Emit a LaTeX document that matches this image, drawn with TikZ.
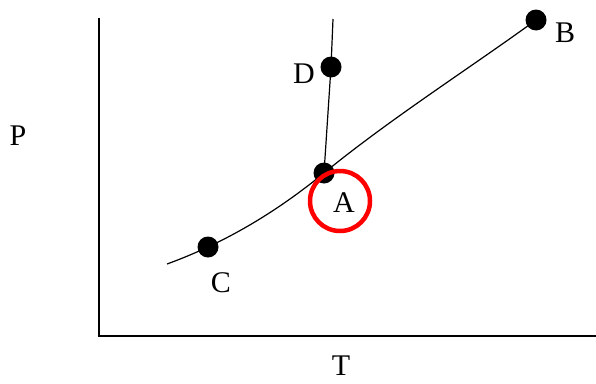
\documentclass[tikz,border=0pt]{standalone}
\usepackage{fontspec}
\setmainfont{Liberation Serif}
\begin{document}
\begin{tikzpicture}[x=1pt,y=-1pt,
  dot/.style={circle,fill=black,inner sep=0pt,minimum size=21pt},
  lbl/.style={font=\fontsize{30}{34}\selectfont,inner sep=0pt},
  axis/.style={line width=1.6pt},
  curve/.style={line width=1.2pt}]
\useasboundingbox (0,0) rectangle (596,383);
\coordinate (O) at (99,336);
\coordinate (Ytop) at (99,18);
\coordinate (Xend) at (596,336);
\draw[axis] (Ytop) -- (O) -- (Xend);
\node[dot] (C) at (208,247) {};
\node[dot] (A) at (324,173) {};
\node[dot] (D) at (331,67) {};
\node[dot] (B) at (536,20) {};
\coordinate (S) at (167,264);
\coordinate (Dtop) at (333,19);
\draw[curve] (S) .. controls (233,240) and (285,205) .. (A.center)
  .. controls (390,119) and (470,68) .. (B.center);
\draw[curve] (A.center) -- (D.center) -- (Dtop);
\node[circle,draw=red,line width=4.5pt,minimum size=60pt,inner sep=0pt] (R) at (340,201) {};
\node[lbl] (lA) at (344,203) {A};
\node[lbl] (lB) at (565,33) {B};
\node[lbl] (lC) at (221,283) {C};
\node[lbl] (lD) at (304,74) {D};
\node[lbl] (lP) at (18,136) {P};
\node[lbl] (lT) at (341,366) {T};
\end{tikzpicture}
\end{document}
